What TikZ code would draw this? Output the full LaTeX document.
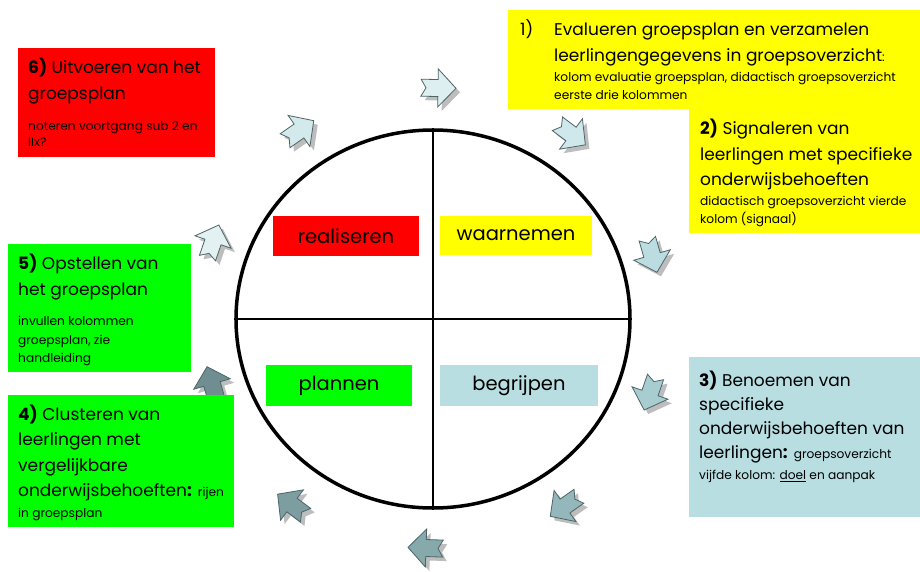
\documentclass[tikz,border=0pt]{standalone}
\usepackage{fontspec}
\setmainfont{Poppins}
\usetikzlibrary{shapes.geometric}
\definecolor{cred}{HTML}{FF0000}
\definecolor{cyel}{HTML}{FFFF00}
\definecolor{cgrn}{HTML}{00FF00}
\definecolor{cblu}{HTML}{B8DEE2}
\definecolor{arredge}{HTML}{4E6466}
\definecolor{shadowc}{HTML}{BDBDBD}
\definecolor{aA}{HTML}{DDEFF1}
\definecolor{aB}{HTML}{CFE8EB}
\definecolor{aC}{HTML}{BBDDE1}
\definecolor{aD}{HTML}{A8CDD1}
\definecolor{aE}{HTML}{93B7BA}
\definecolor{aF}{HTML}{86A9AC}
\definecolor{aG}{HTML}{7C9EA1}
\definecolor{aH}{HTML}{708E91}
\definecolor{aI}{HTML}{E3F1F3}
\definecolor{aJ}{HTML}{D3EAED}
\newcommand{\bsz}{\fontsize{17}{20}\selectfont}
\newcommand{\ssz}{\fontsize{12.2}{14}\selectfont}
\tikzset{
  arrshape/.pic={\path[pic actions] (-17,-8.5) -- (0,-8.5) -- (0,-19) -- (18,0) -- (0,19) -- (0,8.5) -- (-17,8.5) -- (-12,0) -- cycle;},
  shd/.style={fill=shadowc},
  arrw/.style={fill=#1, draw=arredge, line width=0.8pt},
  box/.style={fill=#1, anchor=north west, inner sep=0pt},
  lab/.style={fill=#1, inner sep=0pt, font=\fontsize{19.5}{22}\selectfont},
  tl/.style={anchor=base west, inner sep=0pt, font=\bsz},
  ts/.style={anchor=base west, inner sep=0pt, font=\ssz},
}
\begin{document}
\begin{tikzpicture}[x=1pt,y=-1pt]
\useasboundingbox (0,0) rectangle (920,571);
% circle
\node[draw, ellipse, line width=3.5pt, minimum width=394pt, minimum height=378pt, inner sep=0pt] (circ) at (433,319) {};
\draw[line width=2.5pt] (circ.north) -- (circ.south);
\draw[line width=2.5pt] (circ.west) -- (circ.east);
% arrows: shadows then arrows
\foreach \x/\y/\a/\c in {438/88/-1/aA, 571/134/-37/aB, 652/255/-74/aC, 650/393/-109/aD, 565/506/-145/aE, 426/548/178/aF, 292/505/143/aG, 212/384/106/aH, 213/242/71/aI, 299/131/35/aJ}{
  \pic[shd, rotate=\a] at (\x+4,\y+4) {arrshape};
  \pic[arrw=\c, rotate=\a] at (\x,\y) {arrshape};
}
% boxes
\node[box=cred, minimum width=197pt, minimum height=109pt] (b6) at (18,48) {};
\node[box=cyel, minimum width=412pt, minimum height=99pt] (b1) at (508,10) {};
\node[box=cyel, minimum width=231pt, minimum height=125pt] (b2) at (689,108) {};
\node[box=cblu, minimum width=231pt, minimum height=160pt] (b3) at (689,357) {};
\node[box=cgrn, minimum width=183pt, minimum height=128pt] (b5) at (8,244) {};
\node[box=cgrn, minimum width=226pt, minimum height=132pt] (b4) at (8,395) {};
% inner labels
\node[lab=cred, minimum width=146pt, minimum height=40pt] (realiseren) at (346,236) {realiseren};
\node[lab=cyel, minimum width=152pt, minimum height=39pt] (waarnemen) at (516,235.5) {waarnemen};
\node[lab=cgrn, minimum width=146pt, minimum height=41pt] (plannen) at (339,385.5) {plannen};
\node[lab=cblu, minimum width=158pt, minimum height=41pt] (begrijpen) at (519,385.5) {begrijpen};
% box 6
\node[tl] (t6a) at (28,73.3) {\textbf{6)} Uitvoeren van het};
\node[tl] (t6b) at (28,99.3) {groepsplan};
\node[ts] (t6c) at (28,130) {noteren voortgang sub 2 en};
\node[ts] (t6d) at (28,146.5) {IIx?};
% box 1
\node[tl] (t1n) at (520,35) {1)};
\node[tl] (t1a) at (554,35) {Evalueren groepsplan en verzamelen};
\node[tl] (t1b) at (554,61.7) {leerlingengegevens in groepsoverzicht{\ssz:}};
\node[ts] (t1c) at (554,81.7) {kolom evaluatie groepsplan, didactisch groepsoverzicht};
\node[ts] (t1d) at (554,99.3) {eerste drie kolommen};
% box 2
\node[tl] (t2a) at (700,134.5) {\textbf{2)} Signaleren van};
\node[tl] (t2b) at (700,160.5) {leerlingen met specifieke};
\node[tl] (t2c) at (700,185) {onderwijsbehoeften};
\node[ts] (t2d) at (700,205.5) {didactisch groepsoverzicht vierde};
\node[ts] (t2e) at (700,223) {kolom (signaal)};
% box 3
\node[tl] (t3a) at (699,386) {\textbf{3)} Benoemen van};
\node[tl] (t3b) at (699,410) {specifieke};
\node[tl] (t3c) at (699,434.5) {onderwijsbehoeften van};
\node[tl] (t3d) at (699,458.5) {leerlingen\textbf{:} {\ssz groepsoverzicht}};
\node[ts] (t3e) at (699,479.3) {vijfde kolom: \underline{doel} en aanpak};
% box 5
\node[tl] (t5a) at (18,269.3) {\textbf{5)} Opstellen van};
\node[tl] (t5b) at (18,295) {het groepsplan};
\node[ts] (t5c) at (18,325) {invullen kolommen};
\node[ts] (t5d) at (18,344) {groepsplan, zie};
\node[ts] (t5e) at (18,362.7) {handleiding};
% box 4
\node[tl] (t4a) at (18,420) {\textbf{4)} Clusteren van};
\node[tl] (t4b) at (18,445.5) {leerlingen met};
\node[tl] (t4c) at (18,471) {vergelijkbare};
\node[tl] (t4d) at (18,496.7) {onderwijsbehoeften\textbf{:} {\ssz rijen}};
\node[ts] (t4e) at (18,517.7) {in groepsplan};
\end{tikzpicture}
\end{document}
